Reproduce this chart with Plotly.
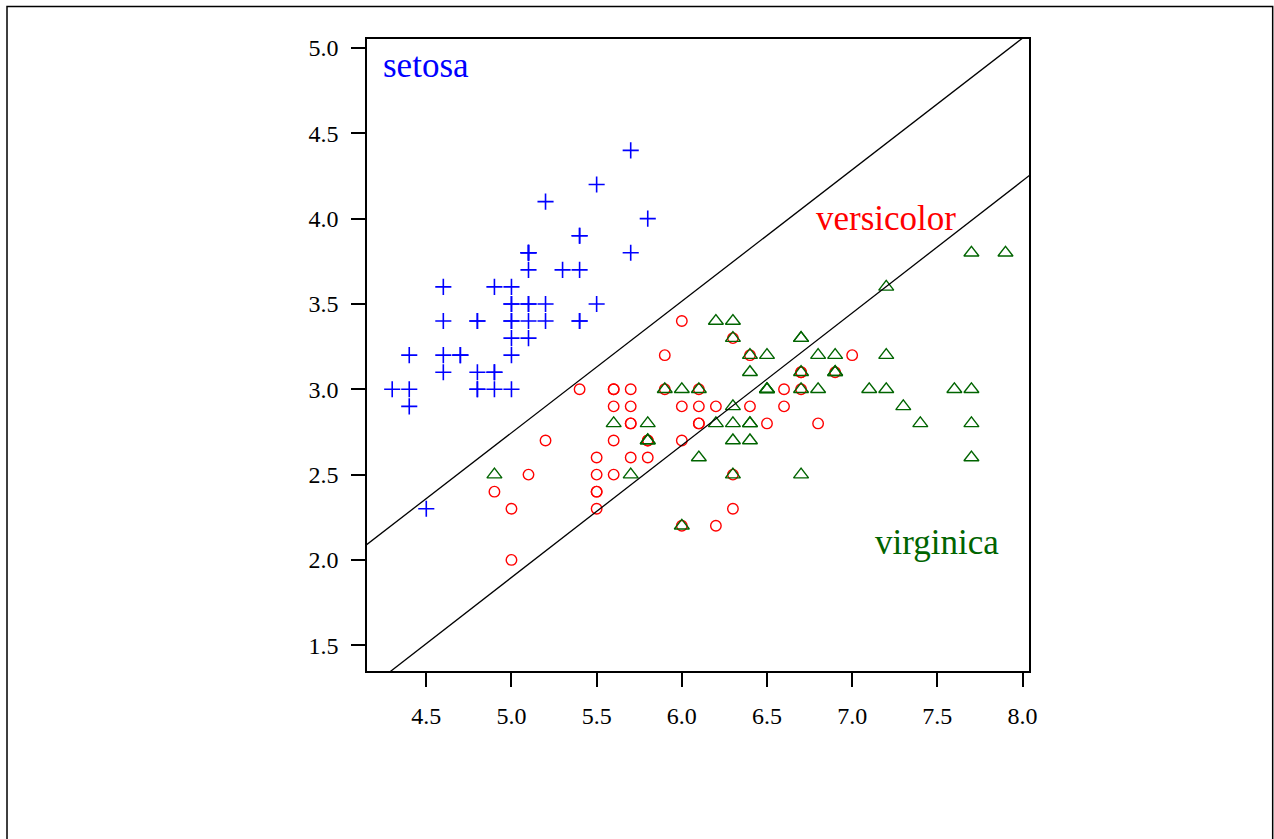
import plotly.graph_objects as go

# Iris: sepal length (x) and sepal width (y)
setosa_x = [5.1,4.9,4.7,4.6,5.0,5.4,4.6,5.0,4.4,4.9,5.4,4.8,4.8,4.3,5.8,5.7,5.4,5.1,5.7,5.1,
            5.4,5.1,4.6,5.1,4.8,5.0,5.0,5.2,5.2,4.7,4.8,5.4,5.2,5.5,4.9,5.0,5.5,4.9,4.4,5.1,
            5.0,4.5,4.4,5.0,5.1,4.8,5.1,4.6,5.3,5.0]
setosa_y = [3.5,3.0,3.2,3.1,3.6,3.9,3.4,3.4,2.9,3.1,3.7,3.4,3.0,3.0,4.0,4.4,3.9,3.5,3.8,3.8,
            3.4,3.7,3.6,3.3,3.4,3.0,3.4,3.5,3.4,3.2,3.1,3.4,4.1,4.2,3.1,3.2,3.5,3.6,3.0,3.4,
            3.5,2.3,3.2,3.5,3.8,3.0,3.8,3.2,3.7,3.3]
versicolor_x = [7.0,6.4,6.9,5.5,6.5,5.7,6.3,4.9,6.6,5.2,5.0,5.9,6.0,6.1,5.6,6.7,5.6,5.8,6.2,5.6,
                5.9,6.1,6.3,6.1,6.4,6.6,6.8,6.7,6.0,5.7,5.5,5.5,5.8,6.0,5.4,6.0,6.7,6.3,5.6,5.5,
                5.5,6.1,5.8,5.0,5.6,5.7,5.7,6.2,5.1,5.7]
versicolor_y = [3.2,3.2,3.1,2.3,2.8,2.8,3.3,2.4,2.9,2.7,2.0,3.0,2.2,2.9,2.9,3.1,3.0,2.7,2.2,2.5,
                3.2,2.8,2.5,2.8,2.9,3.0,2.8,3.0,2.9,2.6,2.4,2.4,2.7,2.7,3.0,3.4,3.1,2.3,3.0,2.5,
                2.6,3.0,2.6,2.3,2.7,3.0,2.9,2.9,2.5,2.8]
virginica_x = [6.3,5.8,7.1,6.3,6.5,7.6,4.9,7.3,6.7,7.2,6.5,6.4,6.8,5.7,5.8,6.4,6.5,7.7,7.7,6.0,
               6.9,5.6,7.7,6.3,6.7,7.2,6.2,6.1,6.4,7.2,7.4,7.9,6.4,6.3,6.1,7.7,6.3,6.4,6.0,6.9,
               6.7,6.9,5.8,6.8,6.7,6.7,6.3,6.5,6.2,5.9]
virginica_y = [3.3,2.7,3.0,2.9,3.0,3.0,2.5,2.9,2.5,3.6,3.2,2.7,3.0,2.5,2.8,3.2,3.0,3.8,2.6,2.2,
               3.2,2.8,2.8,2.7,3.3,3.2,2.8,3.0,2.8,3.0,2.8,3.8,2.8,2.8,2.6,3.0,3.4,3.1,3.0,3.1,
               3.1,3.1,2.7,3.2,3.3,3.0,2.5,3.0,3.4,3.0]

# Decision boundary lines: y = intercept + slope * x
line_intercepts = [-1.110, -1.978]
line_slopes = [0.771, 0.775]

# Class labels and their positions
label_texts = ["setosa", "versicolor", "virginica"]
label_x = [4.5, 7.2, 7.5]
label_y = [4.9, 4.0, 2.1]
label_colors = ["#0000ff", "#ff0000", "#006400"]

x_range = [4.152, 8.038]
y_range = [1.349, 5.053]
x_ticks = [4.5, 5.0, 5.5, 6.0, 6.5, 7.0, 7.5, 8.0]
y_ticks = [1.5, 2.0, 2.5, 3.0, 3.5, 4.0, 4.5, 5.0]

FONT = "Liberation Serif, Times New Roman, serif"

fig = go.Figure()

fig.add_trace(go.Scatter(x=setosa_x, y=setosa_y, mode="markers",
                         marker=dict(symbol="cross-thin-open", size=11.5, color="#0000ff",
                                     line=dict(color="#0000ff", width=1.6))))
fig.add_trace(go.Scatter(x=versicolor_x, y=versicolor_y, mode="markers",
                         marker=dict(symbol="circle-open", size=10.5, color="#ff0000",
                                     line=dict(color="#ff0000", width=1.4))))
fig.add_trace(go.Scatter(x=virginica_x, y=virginica_y, mode="markers",
                         marker=dict(symbol="triangle-up-open", size=13, color="#006400",
                                     line=dict(color="#006400", width=1.4))))

for a, b in zip(line_intercepts, line_slopes):
    xs = [x_range[0] - 1, x_range[1] + 1]
    fig.add_trace(go.Scatter(x=xs, y=[a + b * v for v in xs], mode="lines",
                             line=dict(color="black", width=1.3), hoverinfo="skip"))

for t, x, y, c in zip(label_texts, label_x, label_y, label_colors):
    fig.add_annotation(x=x, y=y, text=t, showarrow=False, xanchor="center", yanchor="middle",
                       font=dict(family=FONT, size=35, color=c))

axis_common = dict(showgrid=False, zeroline=False, showline=True, linecolor="black",
                   linewidth=1.5, mirror=True, ticks="outside", ticklen=14, tickwidth=1.5,
                   tickcolor="black", ticklabelstandoff=8,
                   tickfont=dict(family=FONT, size=24, color="black"))
fig.update_xaxes(range=x_range, tickvals=x_ticks, ticktext=[f"{v:.1f}" for v in x_ticks],
                 **axis_common)
fig.update_yaxes(range=y_range, tickvals=y_ticks, ticktext=[f"{v:.1f}" for v in y_ticks],
                 **axis_common)

# outer frame
fig.add_shape(type="rect", xref="paper", yref="paper", x0=-0.5438, x1=1.3681, y0=-0.3, y1=1.0514,
              line=dict(color="black", width=1.5))

fig.update_layout(width=1274, height=839, showlegend=False,
                  plot_bgcolor="white", paper_bgcolor="white",
                  margin=dict(l=367, r=245, t=39, b=168))

fig.write_html("out.html", config={"displayModeBar": False},
               post_script="document.body.style.margin='0';document.body.style.overflow='hidden';")
